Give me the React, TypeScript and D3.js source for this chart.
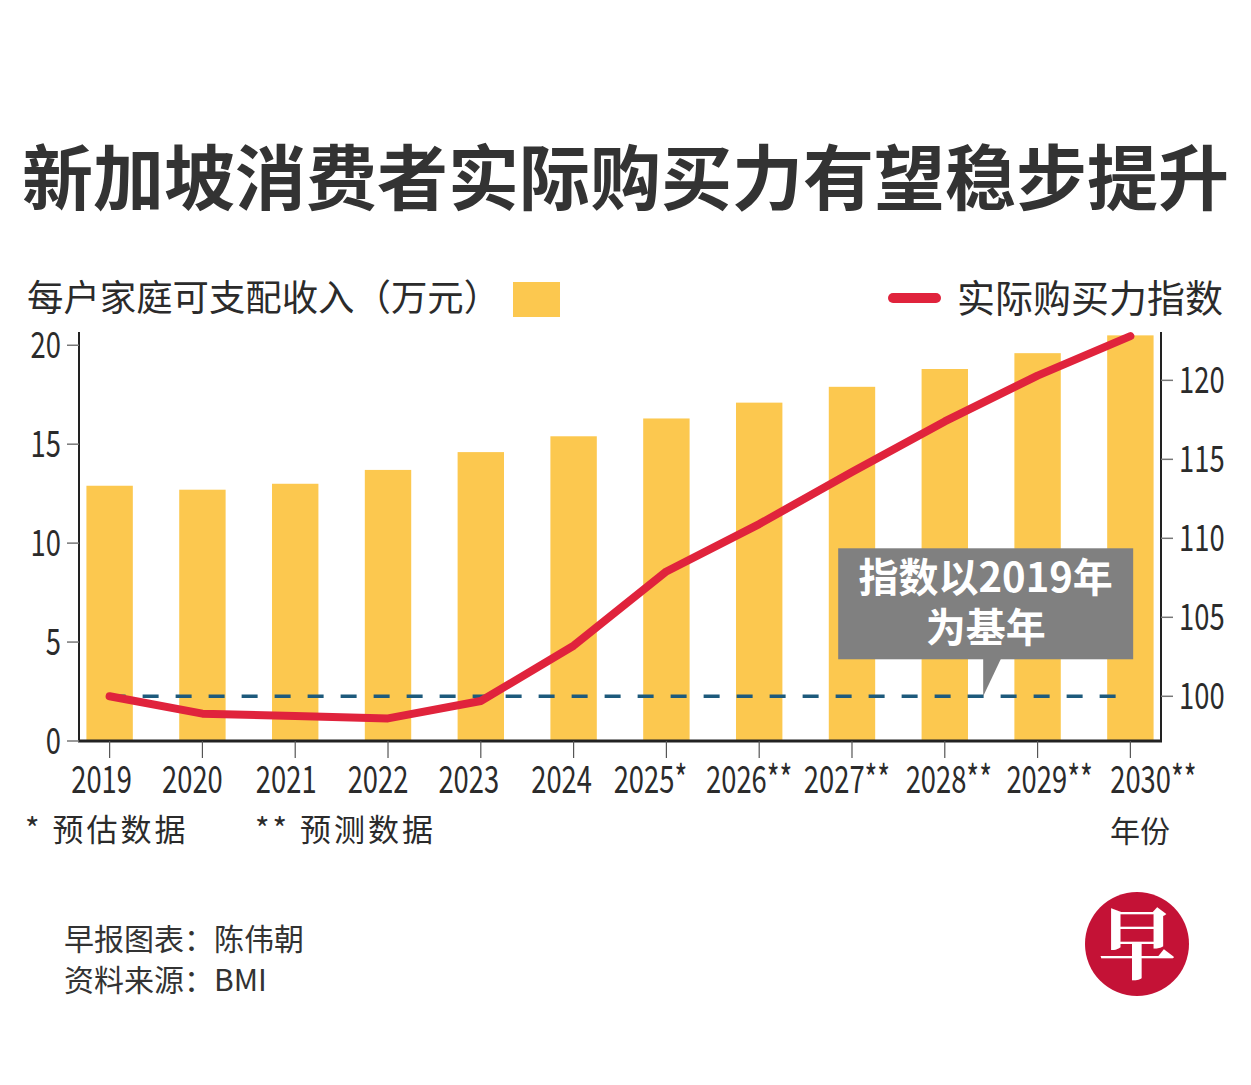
import { useMemo } from "react";
import * as d3 from "d3";

const WIDTH = 1251;
const HEIGHT = 1085;
const PLOT = { left: 79, right: 1161, top: 332, bottom: 741 };
const FONT = "'Noto Sans CJK SC', 'Noto Sans', sans-serif";

const years = ["2019", "2020", "2021", "2022", "2023", "2024", "2025", "2026", "2027", "2028", "2029", "2030"];
const yearLabels = ["2019", "2020", "2021", "2022", "2023", "2024", "2025*", "2026**", "2027**", "2028**", "2029**", "2030**"];
// 每户家庭可支配收入（万元）
const income = [12.9, 12.7, 13.0, 13.7, 14.6, 15.4, 16.3, 17.1, 17.9, 18.8, 19.6, 20.5];
// 实际购买力指数
const powerIndex = [100, 98.9, 98.75, 98.6, 99.7, 103.2, 107.9, 110.9, 114.2, 117.4, 120.3, 122.8];
const leftTicks = [0, 5, 10, 15, 20];
const rightTicks = [100, 105, 110, 115, 120];

// the year labels are not exactly centred under their ticks in the original
const LABEL_DX = [-8, -10, -9, -10, -12, -12, -16, -10, -5, 4, 12, 23];

const BAR_COLOR = "#fcc84f";
const LINE_COLOR = "#e0233c";
const TEXT_COLOR = "#2b2b2b";

const App = () => {
  const xScale = useMemo(
    () =>
      d3
        .scaleBand<string>()
        .domain(years)
        .range([PLOT.left, PLOT.right])
        .paddingInner(0.5)
        .paddingOuter(0.08),
    []
  );
  const yLeft = useMemo(
    () => d3.scaleLinear().domain([0, 20.67]).range([PLOT.bottom, PLOT.top]),
    []
  );
  const yRight = useMemo(
    () => d3.scaleLinear().domain([97.17, 123.06]).range([PLOT.bottom, PLOT.top]),
    []
  );

  const cx = (y: string) => (xScale(y) ?? 0) + xScale.bandwidth() / 2;

  const linePath = d3
    .line<number>()
    .x((_, i) => cx(years[i]))
    .y((d) => yRight(d))(powerIndex);

  // annotation anchored on the base line (index = 100)
  const tipX = (cx("2028") + cx("2029")) / 2 - 8;
  const tipY = yRight(100);
  const boxLeft = tipX - 145;
  const boxRight = tipX + 150;
  const boxTop = tipY - 148;
  const boxBottom = tipY - 37;

  return (
    <svg
      width={WIDTH}
      height={HEIGHT}
      style={{ position: "absolute", left: 0, top: 0, background: "#fff" }}
      fontFamily={FONT}
    >
      {/* title */}
      <text x={22} y={204} fontSize={71} fontWeight={700} fill="#333">
        新加坡消费者实际购买力有望稳步提升
      </text>

      {/* legends */}
      <text x={27} y={311} fontSize={36.4} fill={TEXT_COLOR}>
        每户家庭可支配收入（万元）
      </text>
      <rect x={513} y={282} width={47} height={35} fill={BAR_COLOR} />
      <line x1={893} x2={936} y1={298} y2={298} stroke={LINE_COLOR} strokeWidth={10} strokeLinecap="round" />
      <text x={1223} y={312} fontSize={38} fill={TEXT_COLOR} textAnchor="end">
        实际购买力指数
      </text>

      {/* bars */}
      {income.map((v, i) => (
        <rect
          key={years[i]}
          x={xScale(years[i])}
          y={yLeft(v)}
          width={xScale.bandwidth()}
          height={yLeft(0) - yLeft(v)}
          fill={BAR_COLOR}
        />
      ))}

      {/* base line */}
      <line
        x1={cx("2019")}
        x2={cx("2030")}
        y1={yRight(100)}
        y2={yRight(100)}
        stroke="#1d5a7c"
        strokeWidth={3.5}
        strokeDasharray="16 17"
      />

      {/* index line */}
      <path d={linePath ?? ""} fill="none" stroke={LINE_COLOR} strokeWidth={8} strokeLinejoin="round" strokeLinecap="round" />

      {/* annotation */}
      <rect x={boxLeft} y={boxTop} width={boxRight - boxLeft} height={boxBottom - boxTop} fill="#808080" />
      <path d={`M${tipX},${boxBottom - 1} L${tipX + 18},${boxBottom - 1} L${tipX},${tipY} Z`} fill="#808080" />
      <text x={(boxLeft + boxRight) / 2} y={592} fontSize={40} fontWeight={700} fill="#fff" textAnchor="middle">
        指数以2019年
      </text>
      <text x={(boxLeft + boxRight) / 2} y={642} fontSize={40} fontWeight={700} fill="#fff" textAnchor="middle">
        为基年
      </text>

      {/* axes */}
      <line x1={PLOT.left} x2={PLOT.left} y1={PLOT.top} y2={PLOT.bottom} stroke="#222" strokeWidth={2} />
      <line x1={PLOT.right} x2={PLOT.right} y1={PLOT.top} y2={PLOT.bottom} stroke="#222" strokeWidth={2} />
      <line x1={PLOT.left - 1} x2={PLOT.right + 1} y1={PLOT.bottom} y2={PLOT.bottom} stroke="#222" strokeWidth={3} />

      {leftTicks.map((t) => (
        <g key={t} transform={`translate(${PLOT.left},${yLeft(t)})`}>
          <line x1={-12} x2={0} stroke="#777" strokeWidth={1.5} />
          <text transform="translate(-18,13) scale(0.74,1)" fontSize={37} fill={TEXT_COLOR} textAnchor="end">
            {t}
          </text>
        </g>
      ))}

      {rightTicks.map((t) => (
        <g key={t} transform={`translate(${PLOT.right},${yRight(t)})`}>
          <line x1={0} x2={12} stroke="#777" strokeWidth={1.5} />
          <text transform="translate(18,13) scale(0.74,1)" fontSize={37} fill={TEXT_COLOR}>
            {t}
          </text>
        </g>
      ))}

      {years.map((y, i) => (
        <g key={y} transform={`translate(${cx(y)},${PLOT.bottom})`}>
          <line y1={0} y2={17} stroke="#555" strokeWidth={1.2} />
          <text
            transform={`translate(${LABEL_DX[i]},52) scale(0.72,1)`}
            fontSize={38}
            fill={TEXT_COLOR}
            textAnchor="middle"
          >
            {yearLabels[i]}
          </text>
        </g>
      ))}

      {/* footnotes */}
      <text x={25} y={841} fontSize={31} letterSpacing={3} fill={TEXT_COLOR}>
        * 预估数据
      </text>
      <text x={255} y={841} fontSize={31} letterSpacing={3} fill={TEXT_COLOR}>
        ** 预测数据
      </text>
      <text x={1110} y={842} fontSize={30} fill={TEXT_COLOR}>
        年份
      </text>

      {/* credits */}
      <text x={64} y={950} fontSize={30} fill="#333">
        早报图表：陈伟朝
      </text>
      <text x={64} y={991} fontSize={30} fill="#333">
        资料来源：BMI
      </text>

      {/* logo */}
      <circle cx={1137} cy={944} r={52} fill="#c41236" />
      <text x={1137} y={973} fontSize={78} fontWeight={700} fill="#fff" textAnchor="middle" fontFamily="'Noto Serif CJK SC', 'Noto Sans CJK SC', serif">
        早
      </text>
    </svg>
  );
};

export default App;
